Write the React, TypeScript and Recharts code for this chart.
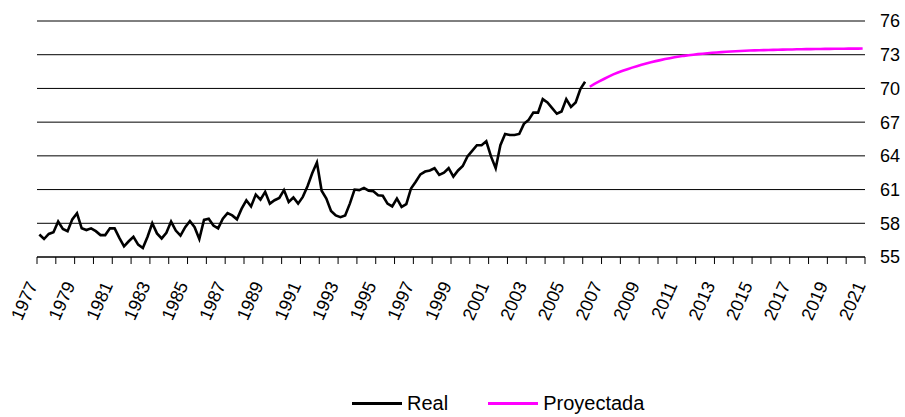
import { CartesianGrid, Line, LineChart, XAxis, YAxis } from "recharts";

// quarterly series, first point = 1977 Q1
const realValues = [
  57.0, 56.6, 57.05, 57.2, 58.15, 57.5, 57.3, 58.35, 58.9, 57.55, 57.4, 57.55,
  57.3, 56.95, 56.95, 57.55, 57.55, 56.7, 55.95, 56.4, 56.8, 56.1, 55.8, 56.8,
  58.0, 57.1, 56.65, 57.15, 58.15, 57.35, 56.9, 57.65, 58.2, 57.65, 56.6, 58.3,
  58.4, 57.8, 57.55, 58.4, 58.9, 58.7, 58.35, 59.3, 60.05, 59.5, 60.55, 60.1,
  60.8, 59.75, 60.05, 60.25, 60.95, 59.9, 60.3, 59.75, 60.35, 61.3, 62.45, 63.4,
  60.9, 60.2, 59.1, 58.7, 58.55, 58.7, 59.75, 61.0, 60.95, 61.15, 60.9, 60.85,
  60.5, 60.45, 59.75, 59.5, 60.2, 59.45, 59.7, 61.1, 61.7, 62.35, 62.6, 62.7,
  62.9, 62.3, 62.5, 62.9, 62.15, 62.7, 63.1, 63.95, 64.45, 64.95, 64.95, 65.3,
  63.95, 62.9, 64.95, 65.95, 65.85, 65.85, 65.95, 66.85, 67.2, 67.85, 67.85, 69.05,
  68.75, 68.25, 67.75, 67.95, 69.05, 68.35, 68.75, 69.95, 70.6,
];

// projection, first point = 2006 Q2
const projValues = [
  70.15, 70.4, 70.62, 70.84, 71.05, 71.25, 71.42, 71.57, 71.71, 71.85, 71.98, 72.1,
  72.22, 72.33, 72.43, 72.52, 72.61, 72.69, 72.77, 72.84, 72.9, 72.95, 73.0, 73.05,
  73.09, 73.13, 73.17, 73.2, 73.23, 73.26, 73.29, 73.31, 73.33, 73.35, 73.37, 73.39,
  73.4, 73.41, 73.42, 73.43, 73.44, 73.45, 73.46, 73.47, 73.48, 73.49, 73.5, 73.5,
  73.51, 73.51, 73.52, 73.52, 73.53, 73.53, 73.53, 73.54, 73.54, 73.54, 73.55,
];

const tickYears = [
  1977, 1978, 1979, 1980, 1981, 1982, 1983, 1984, 1985, 1986, 1987, 1988, 1989, 1990, 1991,
  1992, 1993, 1994, 1995, 1996, 1997, 1998, 1999, 2000, 2001, 2002, 2003, 2004, 2005, 2006,
  2007, 2008, 2009, 2010, 2011, 2012, 2013, 2014, 2015, 2016, 2017, 2018, 2019, 2020, 2021,
];
const labelYears = [
  1977, 1979, 1981, 1983, 1985, 1987, 1989, 1991, 1993, 1995, 1997, 1999,
  2001, 2003, 2005, 2007, 2009, 2011, 2013, 2015, 2017, 2019, 2021,
];
const yTicks = [55, 58, 61, 64, 67, 70, 73, 76];

const startYear = 1977;
const realRows = realValues.map((v, i) => ({ x: startYear + (i + 0.5) / 4, real: v }));
const projRows = projValues.map((v, i) => ({
  x: startYear + (realValues.length + i + 0.5) / 4,
  proj: v,
}));
const data = [...realRows, ...projRows];

const FONT = "'Liberation Sans', Arial, Helvetica, sans-serif";

function YearTick(props: any) {
  const { x, y, payload } = props;
  if (!labelYears.includes(payload.value)) return null;
  return (
    <g transform={`translate(${x + 1},${y + 19})`}>
      <text transform="rotate(-66)" textAnchor="end" fontSize={18} fontFamily={FONT} fill="#000">
        {payload.value}
      </text>
    </g>
  );
}

export default function App() {
  return (
    <div style={{ position: "absolute", left: 0, top: 0, width: 905, height: 417, background: "#fff" }}>
      <LineChart width={905} height={417} data={data} margin={{ top: 21, right: 0, bottom: 0, left: 37 }}>
        <CartesianGrid vertical={false} stroke="#000" strokeWidth={1} />
        <XAxis
          dataKey="x"
          type="number"
          domain={[1977, 2021]}
          ticks={tickYears}
          interval={0}
          height={160}
          tickSize={7}
          tickMargin={2}
          axisLine={{ stroke: "#000" }}
          tickLine={{ stroke: "#000" }}
          tick={(p: any) => <YearTick {...p} />}
        />
        <YAxis
          orientation="right"
          domain={[55, 76]}
          ticks={yTicks}
          width={40}
          axisLine={false}
          tickLine={false}
          tickSize={0}
          tickMargin={15}
          tick={{ fill: "#000", fontSize: 18, fontFamily: FONT }}
        />
        <Line dataKey="real" type="linear" stroke="#000" strokeWidth={2.6} dot={false} isAnimationActive={false} />
        <Line dataKey="proj" type="linear" stroke="#FF00FF" strokeWidth={2.6} dot={false} isAnimationActive={false} />
      </LineChart>
      <div
        style={{
          position: "absolute",
          left: 352,
          top: 391,
          display: "flex",
          alignItems: "center",
          fontFamily: FONT,
          fontSize: 20,
          color: "#000",
          lineHeight: "24px",
        }}
      >
        <span style={{ display: "inline-block", width: 50, height: 3, background: "#000", marginRight: 5 }} />
        <span>Real</span>
        <span style={{ display: "inline-block", width: 50, height: 3, background: "#FF00FF", marginLeft: 40, marginRight: 5 }} />
        <span>Proyectada</span>
      </div>
    </div>
  );
}
